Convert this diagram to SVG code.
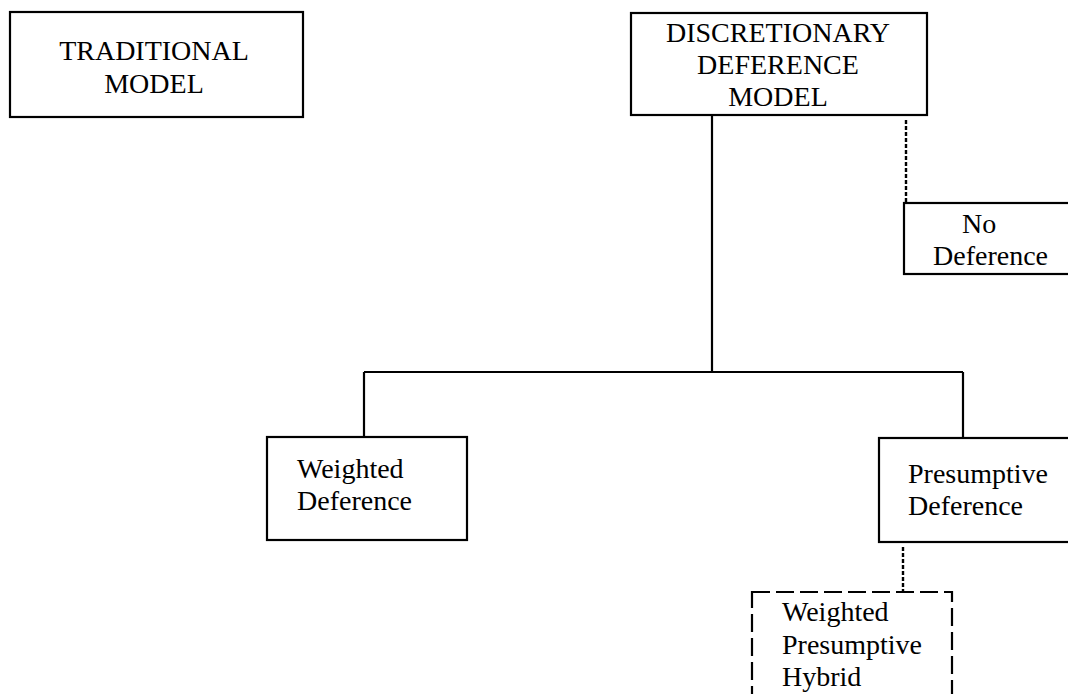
<svg xmlns="http://www.w3.org/2000/svg" width="1068" height="694" viewBox="0 0 1068 694">
<style>
.box{fill:#fff;stroke:#000;stroke-width:2.2}
.dbox{fill:#fff;stroke:#000;stroke-width:2.2;stroke-dasharray:18 6}
.t{font-family:"Liberation Serif","Times New Roman",serif;font-size:28px;fill:#000}
.c{text-anchor:middle}
.ln{fill:none;stroke:#000;stroke-width:2.2}
.dl{fill:none;stroke:#000;stroke-width:2.4;stroke-dasharray:4 2}
</style>
<rect width="1068" height="694" fill="#fff"/>
<g id="connectors">
<path class="ln" d="M712,115 V372 M364,372 H963 M364,372 V437 M963,372 V438"/>
<path class="dl" d="M906,120 V202"/>
<path class="dl" d="M903,547 V592"/>
</g>
<g id="traditional">
<rect class="box" x="10" y="12" width="293" height="105"/>
<text class="t c" x="154" y="60">TRADITIONAL</text>
<text class="t c" x="154" y="93">MODEL</text>
</g>
<g id="discretionary">
<rect class="box" x="631" y="13" width="296" height="102"/>
<text class="t c" x="778" y="42">DISCRETIONARY</text>
<text class="t c" x="778" y="74">DEFERENCE</text>
<text class="t c" x="778" y="106">MODEL</text>
</g>
<g id="no-deference">
<rect class="box" x="904" y="203" width="180" height="71"/>
<text class="t" x="962" y="233">No</text>
<text class="t" x="933" y="265">Deference</text>
</g>
<g id="weighted-deference">
<rect class="box" x="267" y="437" width="200" height="103"/>
<text class="t" x="297" y="478">Weighted</text>
<text class="t" x="297" y="510">Deference</text>
</g>
<g id="presumptive-deference">
<rect class="box" x="879" y="438" width="200" height="104"/>
<text class="t" x="908" y="483">Presumptive</text>
<text class="t" x="908" y="515">Deference</text>
</g>
<g id="hybrid">
<rect class="dbox" x="752" y="592" width="200" height="120"/>
<text class="t" x="782" y="621">Weighted</text>
<text class="t" x="782" y="654">Presumptive</text>
<text class="t" x="782" y="686">Hybrid</text>
</g>
</svg>
